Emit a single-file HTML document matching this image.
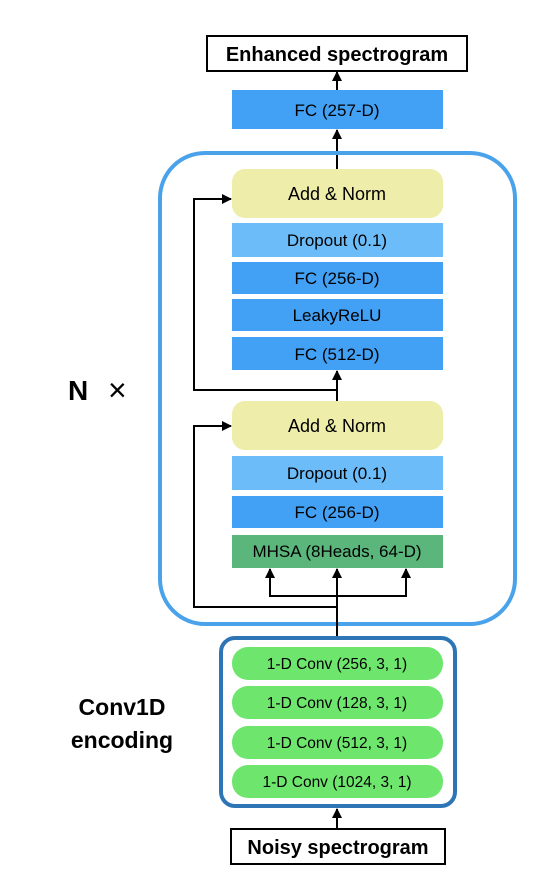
<!DOCTYPE html>
<html><head><meta charset="utf-8"><style>
html,body{margin:0;padding:0;background:#fff;}
svg text{font-family:"Liberation Sans",Arial,sans-serif;}
</style></head><body>
<svg width="540" height="876" viewBox="0 0 540 876" xmlns="http://www.w3.org/2000/svg">
<defs><marker id="a" markerWidth="10" markerHeight="10" refX="9" refY="5" orient="auto" markerUnits="userSpaceOnUse"><path d="M0,0 L10,5 L0,10 z" fill="#000"/></marker></defs>
<rect x="207" y="36" width="260" height="35" fill="#fff" stroke="#000" stroke-width="2"/>
<text x="337" y="61" font-size="20" font-weight="bold" text-anchor="middle">Enhanced spectrogram</text>
<line x1="337" y1="90" x2="337" y2="72" stroke="#000" stroke-width="2" marker-end="url(#a)"/>
<rect x="232" y="90" width="211" height="39" fill="#42a1f5"/>
<text x="337" y="116" font-size="17" text-anchor="middle">FC (257-D)</text>
<line x1="337" y1="169" x2="337" y2="130" stroke="#000" stroke-width="2" marker-end="url(#a)"/>
<rect x="160" y="153" width="355" height="471" rx="45" fill="none" stroke="#4aa3ea" stroke-width="4"/>
<rect x="232" y="169" width="211" height="49" rx="13" fill="#eeeeaa"/>
<text x="337" y="200" font-size="18" text-anchor="middle">Add &amp; Norm</text>
<rect x="232" y="223" width="211" height="34" fill="#6bbcf8"/>
<text x="337" y="246" font-size="17" text-anchor="middle">Dropout (0.1)</text>
<rect x="232" y="262" width="211" height="32" fill="#42a1f5"/>
<text x="337" y="284" font-size="17" text-anchor="middle">FC (256-D)</text>
<rect x="232" y="299" width="211" height="32" fill="#42a1f5"/>
<text x="337" y="321" font-size="17" text-anchor="middle">LeakyReLU</text>
<rect x="232" y="337" width="211" height="33" fill="#42a1f5"/>
<text x="337" y="360" font-size="17" text-anchor="middle">FC (512-D)</text>
<line x1="337" y1="401" x2="337" y2="371" stroke="#000" stroke-width="2" marker-end="url(#a)"/>
<polyline points="337,390 194,390 194,199 231,199" fill="none" stroke="#000" stroke-width="2" marker-end="url(#a)"/>
<rect x="232" y="401" width="211" height="49" rx="13" fill="#eeeeaa"/>
<text x="337" y="432" font-size="18" text-anchor="middle">Add &amp; Norm</text>
<rect x="232" y="456" width="211" height="34" fill="#6bbcf8"/>
<text x="337" y="479" font-size="17" text-anchor="middle">Dropout (0.1)</text>
<rect x="232" y="496" width="211" height="32" fill="#42a1f5"/>
<text x="337" y="518" font-size="17" text-anchor="middle">FC (256-D)</text>
<rect x="232" y="535" width="211" height="33" fill="#5bb67c"/>
<text x="337" y="557" font-size="17" text-anchor="middle">MHSA (8Heads, 64-D)</text>
<line x1="337" y1="637" x2="337" y2="569" stroke="#000" stroke-width="2" marker-end="url(#a)"/>
<polyline points="270,569 270,596 406,596 406,569" fill="none" stroke="#000" stroke-width="2"/>
<line x1="270" y1="596" x2="270" y2="569" stroke="#000" stroke-width="2" marker-end="url(#a)"/>
<line x1="406" y1="596" x2="406" y2="569" stroke="#000" stroke-width="2" marker-end="url(#a)"/>
<polyline points="337,607 194,607 194,426 231,426" fill="none" stroke="#000" stroke-width="2" marker-end="url(#a)"/>
<text x="68" y="400" font-size="28" font-weight="bold">N</text>
<text x="108" y="401" font-size="32">×</text>
<text x="122" y="715" font-size="23" font-weight="bold" text-anchor="middle">Conv1D</text>
<text x="122" y="748" font-size="23" font-weight="bold" text-anchor="middle">encoding</text>
<rect x="221" y="638" width="234" height="168" rx="14" fill="none" stroke="#2e75b6" stroke-width="4"/>
<rect x="232" y="647" width="211" height="33" rx="16" fill="#6ee66e"/>
<text x="337" y="669" font-size="15.5" text-anchor="middle">1-D Conv (256, 3, 1)</text>
<rect x="232" y="686" width="211" height="33" rx="16" fill="#6ee66e"/>
<text x="337" y="708" font-size="15.5" text-anchor="middle">1-D Conv (128, 3, 1)</text>
<rect x="232" y="726" width="211" height="33" rx="16" fill="#6ee66e"/>
<text x="337" y="748" font-size="15.5" text-anchor="middle">1-D Conv (512, 3, 1)</text>
<rect x="232" y="765" width="211" height="33" rx="16" fill="#6ee66e"/>
<text x="337" y="787" font-size="15.5" text-anchor="middle">1-D Conv (1024, 3, 1)</text>
<line x1="337" y1="829" x2="337" y2="809" stroke="#000" stroke-width="2" marker-end="url(#a)"/>
<rect x="231" y="829" width="214" height="35" fill="#fff" stroke="#000" stroke-width="2"/>
<text x="338" y="854" font-size="20" font-weight="bold" text-anchor="middle">Noisy spectrogram</text>
</svg>
</body></html>
